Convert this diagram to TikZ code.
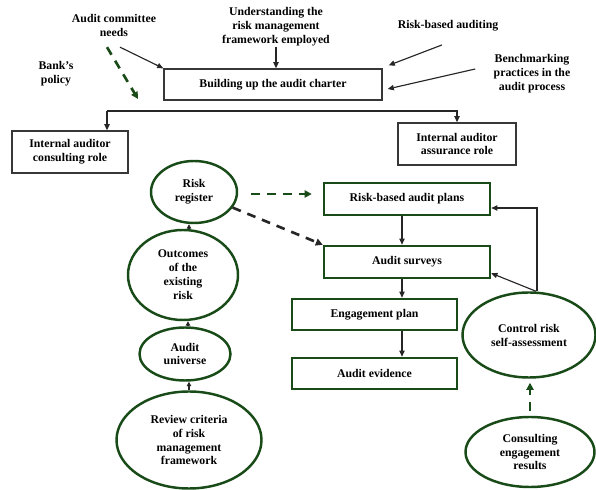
\documentclass[tikz,border=0pt]{standalone}
\usepackage{fontspec}
\setmainfont{Liberation Serif}
\usepackage{xcolor}
\definecolor{rmgreen}{RGB}{25,75,25}
\definecolor{rmgrey}{RGB}{55,55,55}
\usetikzlibrary{arrows.meta,positioning,shapes.geometric,calc}
\tikzset{
  lbl/.style={align=center, font=\fontsize{13.4}{15.9}\selectfont\bfseries, inner sep=1pt},
  plainbox/.style={draw=rmgrey, line width=1.5pt, align=center, font=\fontsize{13.4}{15.9}\selectfont\bfseries},
  greenbox/.style={draw=rmgreen, line width=2.8pt, align=center, font=\fontsize{13.4}{15.9}\selectfont\bfseries},
  greenell/.style={ellipse, draw=rmgreen, line width=2.8pt, inner sep=0pt, align=center, font=\fontsize{13.4}{15.9}\selectfont\bfseries},
  arr/.style={-{Triangle[length=7pt,width=6pt]}, line width=1.3pt, draw=black!85},
  sarr/.style={-{Triangle[length=5pt,width=5pt]}, line width=1.3pt, draw=black!85},
  gdarr/.style={-{Triangle[length=8pt,width=8pt]}, line width=3pt, draw=rmgreen, dash pattern=on 10pt off 8pt},
  kdarr/.style={-{Triangle[length=8pt,width=8pt]}, line width=3pt, draw=black!85, dash pattern=on 10pt off 8pt}
}

\begin{document}
\begin{tikzpicture}
  \useasboundingbox (0,0) rectangle (23.84,19.6);

  %% Inputs to the audit charter (top)
  \node[lbl] (committee) at (4.56,18.6) {Audit committee\\needs};
  \node[lbl] (understand) at (11.04,18.52) {Understanding the\\risk management\\framework employed};
  \node[lbl] (riskaud) at (17.92,18.56) {Risk-based auditing};
  \node[lbl] (bench) at (21.28,16.64) {Benchmarking\\practices in the\\audit process};
  \node[lbl] (policy) at (2.24,16.64) {Bank's\\policy};
  \node[plainbox, minimum width=8.72cm, minimum height=1.24cm] (charter) at (10.92,16.22) {Building up the audit charter};
  \coordinate (policyend) at (5.52,15.64);

  \draw[arr] ([xshift=0.24cm,yshift=-0.4cm]committee.south) -- (charter.north west);
  \draw[arr] (understand.south) -- (understand.south |- charter.north);
  \draw[arr] ([xshift=-0.24cm,yshift=-0.5cm]riskaud.south) -- ([xshift=0.24cm,yshift=0.12cm]charter.north east);
  \draw[arr] ([xshift=-0.7cm,yshift=0.2cm]bench.west) -- ([xshift=0.2cm,yshift=-0.18cm]charter.east);
  \draw[gdarr] ([xshift=-0.28cm,yshift=-0.4cm]committee.south) -- (policyend);

  %% Auditor roles
  \node[plainbox, minimum width=4.64cm, minimum height=1.68cm] (consult) at (2.8,13.52) {Internal auditor\\consulting role};
  \node[plainbox, minimum width=4.72cm, minimum height=1.68cm] (assure) at (18.28,13.84) {Internal auditor\\assurance role};
  \coordinate (split) at (4.28,15.16);
  \draw[arr] (split) -- (split |- consult.north);
  \draw[arr] (split) -| (assure.north);

  %% Risk chain (left)
  \node[greenell, minimum width=3.44cm, minimum height=2.48cm] (register) at (7.76,11.92) {Risk\\register};
  \node[greenell, minimum width=4.4cm, minimum height=3.6cm] (outcomes) at (7.32,8.6) {Outcomes\\of the\\existing\\risk};
  \node[greenell, minimum width=3.64cm, minimum height=2.12cm] (universe) at (7.4,5.44) {Audit\\universe};
  \node[greenell, minimum width=5.8cm, minimum height=3.88cm] (review) at (7.56,2.0) {Review criteria\\of risk\\management\\framework};
  \draw[sarr] (review.north) -- (review.north |- universe.south);
  \draw[sarr] ([xshift=0.12cm]universe.north) -- ([xshift=0.12cm]universe.north |- outcomes.south);
  \draw[sarr] ([xshift=0.24cm]outcomes.north) -- ([xshift=0.24cm]outcomes.north |- register.south);

  %% Audit process (right)
  \node[greenbox, minimum width=6.64cm, minimum height=1.28cm] (plans) at (16.28,11.64) {Risk-based audit plans};
  \node[greenbox, minimum width=6.64cm, minimum height=1.28cm] (surveys) at (16.28,9.12) {Audit surveys};
  \node[greenbox, minimum width=6.6cm, minimum height=1.24cm] (engage) at (14.98,7.02) {Engagement plan};
  \node[greenbox, minimum width=6.6cm, minimum height=1.24cm] (evidence) at (14.98,4.66) {Audit evidence};
  \draw[arr] ([xshift=-0.2cm]plans.south) -- ([xshift=-0.2cm]surveys.north);
  \draw[arr] ([xshift=-0.2cm]surveys.south) -- ([xshift=-0.2cm]surveys.south |- engage.north);
  \draw[arr] ([xshift=-0.2cm]surveys.south |- engage.south) -- ([xshift=-0.2cm]surveys.south |- evidence.north);

  \draw[gdarr, shorten <=0.52cm, shorten >=0.44cm] ([yshift=-0.08cm]register.east) -- ([yshift=-0.08cm]register.east -| plans.west);
  \draw[kdarr] (register.-22) -- (surveys.north west);

  %% Self-assessment loop
  \node[greenell, minimum width=5.32cm, minimum height=3.4cm] (crsa) at (21.16,6.2) {Control risk\\self-assessment};
  \node[greenell, minimum width=5.16cm, minimum height=2.8cm] (conres) at (21.2,1.52) {Consulting\\engagement\\results};
  \draw[arr] ([xshift=0.28cm]crsa.north) -- ([yshift=0.24cm]surveys.south east);
  \draw[arr] ([xshift=0.32cm]crsa.north) |- ([yshift=-0.36cm]plans.east);
  \draw[gdarr] ([yshift=0.2cm]conres.north) -- ([yshift=-0.16cm]conres.north |- crsa.south);
\end{tikzpicture}
\end{document}
